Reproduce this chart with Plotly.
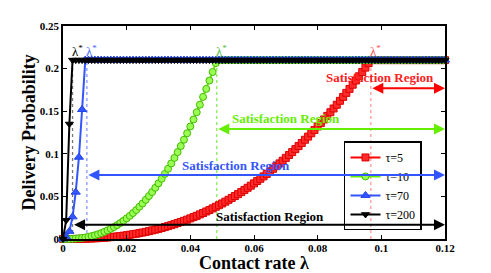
import plotly.graph_objects as go

# ---------------- data ----------------
lam = [i / 1000 for i in range(121)]          # contact rate grid, 0 .. 0.12
p_sat = 0.21                                   # saturation probability

red_rise = [0, 0.0000, 0.0000, 0.0000, 0.0001, 0.0001, 0.0002, 0.0003, 0.0005, 0.0006,
            0.0008, 0.0010, 0.0013, 0.0015, 0.0018, 0.0022, 0.0026, 0.0030, 0.0034, 0.0039,
            0.0044, 0.0050, 0.0056, 0.0062, 0.0069, 0.0076, 0.0084, 0.0092, 0.0101, 0.0110,
            0.0119, 0.0129, 0.0140, 0.0151, 0.0162, 0.0174, 0.0187, 0.0200, 0.0213, 0.0227,
            0.0242, 0.0257, 0.0272, 0.0289, 0.0305, 0.0323, 0.0340, 0.0359, 0.0378, 0.0397,
            0.0417, 0.0438, 0.0460, 0.0482, 0.0504, 0.0527, 0.0551, 0.0576, 0.0601, 0.0626,
            0.0653, 0.0680, 0.0707, 0.0735, 0.0764, 0.0794, 0.0824, 0.0855, 0.0887, 0.0919,
            0.0952, 0.0986, 0.1020, 0.1055, 0.1091, 0.1127, 0.1165, 0.1202, 0.1241, 0.1280,
            0.1321, 0.1361, 0.1403, 0.1445, 0.1488, 0.1532, 0.1576, 0.1622, 0.1668, 0.1715,
            0.1762, 0.1811, 0.1860, 0.1910, 0.1960, 0.2012, 0.2064]
green_rise = [0, 0.0000, 0.0001, 0.0002, 0.0005, 0.0008, 0.0013, 0.0018, 0.0026, 0.0034,
              0.0044, 0.0056, 0.0069, 0.0084, 0.0101, 0.0119, 0.0140, 0.0162, 0.0187, 0.0213,
              0.0242, 0.0272, 0.0305, 0.0340, 0.0378, 0.0417, 0.0460, 0.0504, 0.0551, 0.0601,
              0.0653, 0.0707, 0.0764, 0.0824, 0.0887, 0.0952, 0.1020, 0.1091, 0.1165, 0.1241,
              0.1321, 0.1403, 0.1488, 0.1576, 0.1668, 0.1762, 0.1860, 0.1960, 0.2064]
blue_rise = [0, 0.002, 0.009, 0.026, 0.055, 0.096, 0.152]
black_rise = [0, 0.022, 0.135]

series_names = ["τ=5", "τ=10", "τ=70", "τ=200"]
lambda_star = [0.0967, 0.0483, 0.0075, 0.003]
region_label = "Satisfaction Region"
star_label = "λ<sup>*</sup>"

# ---------------- styles ----------------
SERIF = "Liberation Serif, Times New Roman, serif"
colors = ["#ff0000", "#66ee00", "#3355ff", "#000000"]
edge_colors = ["#dd0000", "#44bb00", "#2244ee", "#000000"]
fill_colors = ["#ff2a2a", "#99ff55", "#3355ff", "#000000"]
symbols = ["square", "circle", "triangle-up", "triangle-down"]
msizes = [7, 7, 8, 7]
dot_colors = ["#ff9a9a", "#88ee55", "#8899ff", "#777777"]
star_colors = ["#ff5050", "#55bb44", "#4466ff", "#000000"]
text_colors = ["#ff2020", "#66ee00", "#3355ff", "#000000"]
arrow_y = [0.177, 0.129, 0.0752, 0.0168]
text_pos = [(0.0996, 0.190), (0.070, 0.142), (0.0542, 0.0867), (0.0649, 0.0264)]

def full(rise):
    return rise + [p_sat] * (len(lam) - len(rise))

curves = [full(red_rise), full(green_rise), full(blue_rise), full(black_rise)]

fig = go.Figure()

# dotted lambda* markers
for ls, col in zip(lambda_star, dot_colors):
    fig.add_trace(go.Scatter(x=[ls, ls], y=[0, p_sat], mode="lines",
                             line=dict(color=col, width=1.3, dash="dot"),
                             showlegend=False, hoverinfo="skip", cliponaxis=False))

for name, y, c, ec, fc, sym, ms in zip(series_names, curves, colors, edge_colors,
                                       fill_colors, symbols, msizes):
    fig.add_trace(go.Scatter(
        x=lam, y=y, mode="lines+markers", name=name,
        line=dict(color=c, width=2),
        marker=dict(symbol=sym, size=ms, color=fc, line=dict(color=ec, width=1)),
        cliponaxis=False))

annotations = []
for ls, ay, tp, ac, tc, sc in zip(lambda_star, arrow_y, text_pos, colors, text_colors, star_colors):
    annotations.append(dict(x=0.12, y=ay, ax=ls, ay=ay, xref="x", yref="y",
                            axref="x", ayref="y", text="", showarrow=True,
                            arrowhead=2, startarrowhead=2, arrowside="end+start",
                            arrowsize=1.1, startarrowsize=1.1, arrowwidth=2,
                            arrowcolor=ac))
    annotations.append(dict(x=tp[0], y=tp[1], xref="x", yref="y", text=region_label,
                            showarrow=False,
                            font=dict(family=SERIF, size=13, color=tc, weight="bold")))
    annotations.append(dict(x=ls, y=0.221, xref="x", yref="y", text=star_label,
                            showarrow=False, xanchor="left", yanchor="middle", xshift=-3,
                            font=dict(family=SERIF, size=13, color=sc)))

annotations.append(dict(x=0.5, y=0, xref="paper", yref="paper", text="Contact rate λ",
                        showarrow=False, yanchor="middle", yshift=-24,
                        font=dict(family=SERIF, size=18, color="black", weight="bold")))
annotations.append(dict(x=0, y=0.5, xref="paper", yref="paper", text="Delivery Probability",
                        showarrow=False, textangle=-90, xanchor="center", xshift=-35,
                        font=dict(family=SERIF, size=18, color="black", weight="bold")))

axis_common = dict(showgrid=False, zeroline=False, showline=True, linecolor="black",
                   linewidth=1.5, mirror="ticks", ticks="inside", ticklen=4,
                   tickwidth=1.2, tickcolor="black",
                   tickfont=dict(family=SERIF, size=11, color="black", weight="bold"))

# page body has an 8px margin, so the figure is offset by (8, 8)
fig.update_layout(
    width=483, height=265,
    margin=dict(l=55, r=46, t=13, b=34),
    paper_bgcolor="white", plot_bgcolor="white",
    xaxis=dict(range=[0, 0.12], tick0=0, dtick=0.02, ticklabelstandoff=-2, **axis_common),
    yaxis=dict(range=[0, 0.25], tick0=0, dtick=0.05, **axis_common),
    legend=dict(x=0.7356, y=0.458, xanchor="left", yanchor="top",
                bgcolor="rgba(255,255,255,0)", bordercolor="black", borderwidth=1.5,
                font=dict(family=SERIF, size=12, color="black"),
                itemwidth=30, tracegroupgap=0),
    annotations=annotations,
    showlegend=True,
)

fig.write_html("out.html")
